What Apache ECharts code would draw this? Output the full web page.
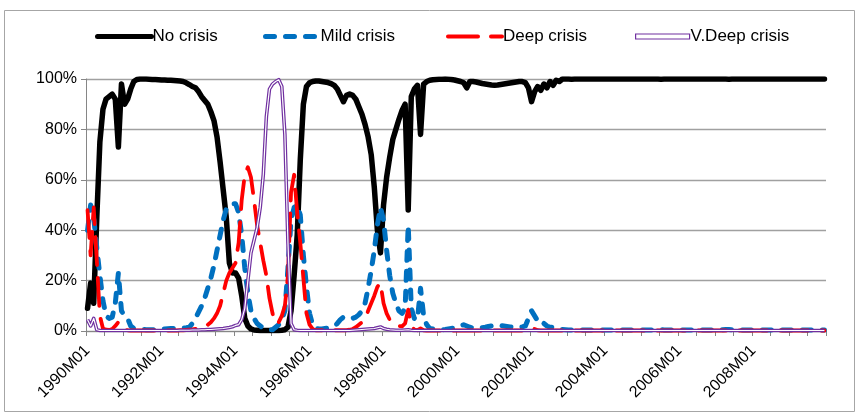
<!DOCTYPE html>
<html>
<head>
<meta charset="utf-8">
<script src="https://cdn.jsdelivr.net/npm/echarts@6/dist/echarts.min.js"></script>
<style>
  html, body { margin: 0; padding: 0; background: #fff; }
  #chart { width: 859px; height: 416px; }
</style>
</head>
<body>
<div id="chart"></div>
<script>
// monthly categories 1990M01 .. 2009M12
const months = [];
for (let y = 1990; y <= 2009; y++) {
  for (let m = 1; m <= 12; m++) months.push(y + 'M' + (m < 10 ? '0' + m : m));
}

const yTicks = [0, 20, 40, 60, 80, 100];

// probabilities in %, one row per year
const noCrisis = [
  9, 19, 11, 45, 75, 88, 92, 93, 94, 92, 73, 98,            // 1990
  90, 92, 96, 99, 99.8, 100, 100, 100, 99.9, 99.8, 99.8, 99.7, // 1991
  99.6, 99.6, 99.5, 99.5, 99.4, 99.3, 99.2, 99, 98.5, 97.8, 97, 96.5, // 1992
  95, 93, 91.5, 90, 87, 83.5, 77, 67, 56, 45, 27, 23,       // 1993
  23, 21, 14, 5, 2, 0.8, 0.4, 0.3, 0.2, 0.2, 0.2, 0.2,      // 1994
  0.2, 0.2, 0.2, 0.3, 0.5, 1.5, 8, 22, 38, 68, 90, 97,      // 1995
  98.5, 99, 99.2, 99.2, 99, 98.8, 98.6, 98.2, 97.5, 96, 93.5, 91, // 1996
  93.5, 94, 93.5, 92, 89, 86, 82, 77, 70, 57, 40, 31,       // 1997
  50, 61, 69, 76, 80, 84, 87.5, 90, 48, 93, 96, 97.5,       // 1998
  78, 98, 99, 99.5, 99.7, 99.8, 99.9, 99.9, 100, 99.9, 99.8, 99.6, // 1999
  99.3, 99, 98.5, 96.5, 99, 99, 98.8, 98.5, 98.2, 98, 97.8, 97.6,  // 2000
  97.5, 97.6, 97.8, 98, 98.2, 98.4, 98.6, 98.8, 99, 99, 98.6, 96.5, // 2001
  91, 95, 97, 95.5, 98, 96.5, 99, 97.5, 99.5, 99, 100, 100, // 2002
  100, 99.9, 100, 100, 100, 100, 100, 100, 100, 100, 100, 100, // 2003
  100, 100, 100, 100, 100, 100, 100, 100, 100, 100, 100, 100, // 2004
  100, 100, 100, 100, 100, 100, 99.9, 100, 100, 100, 100, 100, // 2005
  100, 100, 100, 100, 100, 100, 100, 100, 100, 100, 100, 100, // 2006
  100, 100, 100, 100, 99.9, 100, 100, 100, 100, 100, 100, 100, // 2007
  100, 100, 100, 100, 100, 100, 100, 100, 100, 100, 100, 100, // 2008
  100, 100, 100, 100, 100, 100, 100, 100, 100, 100, 100, 100  // 2009
];

const mildCrisis = [
  40, 50, 45, 33, 22, 12, 6, 5, 5.5, 11, 23, 8,
  6, 5, 2, 1, 0.8, 0.7, 0.6, 0.5, 0.5, 0.5, 0.5, 0.6,
  0.7, 0.8, 0.9, 1, 1, 1, 1.1, 1.2, 1.3, 1.5, 3, 5,
  7.5, 10, 13, 17, 21, 26, 32, 38, 44, 48.5, 50, 50.5,
  50.5, 47, 38, 25, 15, 8, 5, 3, 2, 1.2, 0.8, 0.5,
  0.5, 1.5, 2.5, 4.5, 8, 25, 44, 49, 50, 46, 30, 17.6,
  7, 2.5, 1, 0.8, 0.8, 1, 1.2, 1.5, 2, 3, 4.5, 5.5,
  5.5, 5, 5, 5.5, 6.5, 8, 11, 17, 24, 32, 42, 49,
  44, 32, 22, 15, 11, 8, 7, 9, 42, 9, 5, 4.5,
  17, 6, 2.5, 1, 0.8, 0.6, 0.5, 0.5, 0.6, 0.8, 1, 1.2,
  1.5, 2, 2.5, 2, 1.5, 1.2, 1.2, 1.3, 1.3, 1.5, 1.8, 2,
  2.2, 2.2, 2.2, 2, 1.8, 1.6, 1.5, 1.5, 1.5, 1.6, 2, 5,
  8, 6, 4, 2.5, 3, 2, 1.5, 1.5, 1, 0.8, 0.6, 0.5,
  0.4, 0.4, 0.4, 0.4, 0.4, 0.4, 0.4, 0.4, 0.4, 0.4, 0.4, 0.4,
  0.4, 0.4, 0.4, 0.4, 0.4, 0.4, 0.4, 0.4, 0.4, 0.4, 0.4, 0.4,
  0.4, 0.4, 0.4, 0.4, 0.4, 0.5, 0.5, 0.4, 0.4, 0.4, 0.4, 0.4,
  0.4, 0.4, 0.4, 0.4, 0.4, 0.4, 0.4, 0.4, 0.4, 0.4, 0.4, 0.4,
  0.4, 0.4, 0.5, 0.6, 0.6, 0.5, 0.4, 0.4, 0.4, 0.4, 0.4, 0.4,
  0.4, 0.4, 0.4, 0.4, 0.4, 0.4, 0.4, 0.4, 0.4, 0.4, 0.4, 0.4,
  0.4, 0.4, 0.4, 0.4, 0.4, 0.4, 0.4, 0.4, 0.4, 0.4, 0.4, 0.4
];

const deepCrisis = [
  48, 30, 49, 28, 6, 1, 0.5, 0.4, 0.8, 2, 3.5, 1.5,
  0.5, 0.3, 0.2, 0.2, 0.2, 0.2, 0.2, 0.2, 0.2, 0.2, 0.2, 0.2,
  0.2, 0.2, 0.2, 0.2, 0.2, 0.2, 0.3, 0.3, 0.4, 0.5, 0.6, 0.8,
  1, 1.3, 1.8, 2.5, 3.5, 5, 7, 10, 15, 20, 23, 25,
  27, 35, 52, 62, 65, 61, 52, 42, 35, 28, 22, 13,
  7, 3, 3.5, 6, 10, 22, 55, 62, 47, 35, 21, 7,
  2.5, 0.8, 0.3, 0.3, 0.3, 0.3, 0.3, 0.3, 0.3, 0.3, 0.3, 0.3,
  0.3, 0.5, 0.8, 1.5, 2.5, 3.5, 5, 8, 11, 14, 17.5, 19,
  11, 7, 4.5, 3.2, 2.5, 2, 1.8, 3, 8.5, 2, 0.5, 0.3,
  1, 0.3, 0.2, 0.2, 0.2, 0.2, 0.2, 0.2, 0.2, 0.2, 0.2, 0.2,
  0.2, 0.2, 0.2, 0.2, 0.2, 0.2, 0.2, 0.2, 0.2, 0.2, 0.2, 0.2,
  0.2, 0.2, 0.2, 0.2, 0.2, 0.2, 0.2, 0.2, 0.2, 0.2, 0.3, 0.6,
  1.2, 0.8, 0.3, 0.2, 0.2, 0.2, 0.2, 0.2, 0.2, 0.2, 0.2, 0.2,
  0.2, 0.2, 0.2, 0.2, 0.2, 0.2, 0.2, 0.2, 0.2, 0.2, 0.2, 0.2,
  0.2, 0.2, 0.2, 0.2, 0.2, 0.2, 0.2, 0.2, 0.2, 0.2, 0.2, 0.2,
  0.2, 0.2, 0.2, 0.2, 0.2, 0.2, 0.2, 0.2, 0.2, 0.2, 0.2, 0.2,
  0.2, 0.2, 0.2, 0.2, 0.2, 0.2, 0.2, 0.2, 0.2, 0.2, 0.2, 0.2,
  0.2, 0.2, 0.2, 0.2, 0.2, 0.2, 0.2, 0.2, 0.2, 0.2, 0.2, 0.2,
  0.2, 0.2, 0.2, 0.2, 0.2, 0.2, 0.2, 0.2, 0.2, 0.2, 0.2, 0.2,
  0.2, 0.2, 0.2, 0.2, 0.2, 0.2, 0.2, 0.2, 0.2, 0.2, 0.2, 0.2
];

const vDeepCrisis = [
  4.5, 2, 5, 0.5, 0.2, 0.2, 0.2, 0.2, 0.2, 0.2, 0.2, 0.2,
  0.2, 0.2, 0.2, 0.2, 0.2, 0.2, 0.2, 0.2, 0.2, 0.2, 0.2, 0.2,
  0.2, 0.2, 0.2, 0.2, 0.2, 0.2, 0.3, 0.3, 0.3, 0.3, 0.4, 0.4,
  0.4, 0.5, 0.5, 0.6, 0.6, 0.7, 0.8, 0.9, 1, 1.2, 1.4, 1.7,
  2.2, 2.5, 4.5, 9, 20, 31, 36, 41, 49, 62, 85, 96,
  98, 99, 99.7, 97, 78, 35, 3, 0.5, 0.3, 0.2, 0.2, 0.2,
  0.2, 0.2, 0.2, 0.2, 0.2, 0.2, 0.2, 0.2, 0.2, 0.2, 0.2, 0.2,
  0.2, 0.2, 0.3, 0.4, 0.5, 0.6, 0.7, 0.8, 0.9, 1, 1.3, 1.6,
  1, 0.7, 0.5, 0.4, 0.3, 0.3, 0.3, 0.4, 0.5, 0.3, 0.2, 0.2,
  0.2, 0.2, 0.2, 0.2, 0.2, 0.2, 0.2, 0.2, 0.2, 0.2, 0.2, 0.2,
  0.2, 0.2, 0.2, 0.2, 0.2, 0.2, 0.2, 0.2, 0.2, 0.2, 0.2, 0.2,
  0.2, 0.2, 0.2, 0.2, 0.2, 0.2, 0.2, 0.2, 0.2, 0.2, 0.2, 0.2,
  0.2, 0.2, 0.2, 0.2, 0.2, 0.2, 0.2, 0.2, 0.2, 0.2, 0.2, 0.2,
  0.2, 0.2, 0.2, 0.2, 0.2, 0.2, 0.2, 0.2, 0.2, 0.2, 0.2, 0.2,
  0.2, 0.2, 0.2, 0.2, 0.2, 0.2, 0.2, 0.2, 0.2, 0.2, 0.2, 0.2,
  0.2, 0.2, 0.2, 0.2, 0.2, 0.2, 0.2, 0.2, 0.2, 0.2, 0.2, 0.2,
  0.2, 0.2, 0.2, 0.2, 0.2, 0.2, 0.2, 0.2, 0.2, 0.2, 0.2, 0.2,
  0.2, 0.2, 0.2, 0.2, 0.2, 0.2, 0.2, 0.2, 0.2, 0.2, 0.2, 0.2,
  0.2, 0.2, 0.2, 0.2, 0.2, 0.2, 0.2, 0.2, 0.2, 0.2, 0.2, 0.2,
  0.2, 0.2, 0.2, 0.2, 0.2, 0.2, 0.2, 0.2, 0.2, 0.2, 0.2, 0.2
];

const FONT = 'Liberation Sans';
const chart = echarts.init(document.getElementById('chart'), null, { renderer: 'canvas' });

// one legend per entry so each can sit where the original has it
function legendAt(entry, left, lineStyle) {
  return {
    data: [entry],
    left: left,
    top: 28,
    padding: 0,
    itemWidth: 54,
    itemHeight: 5,
    itemGap: 0,
    itemStyle: { opacity: 0 },  // hide the symbol dot, keep the line
    lineStyle: lineStyle || {},
    textStyle: { fontFamily: FONT, fontSize: 17, color: '#000', padding: [0, 0, 0, -4] }
  };
}

const option = {
  backgroundColor: '#fff',
  animation: false,
  graphic: [{
    type: 'rect',
    shape: { x: 4.5, y: 10.5, width: 850, height: 401 },
    style: { fill: 'none', stroke: '#a6a6a6', lineWidth: 1 },
    silent: true
  }],
  legend: [
    legendAt('No crisis', 95, { width: 5, cap: 'round' }),
    legendAt('Mild crisis', 263, { width: 5, type: [9, 11], cap: 'round' }),
    legendAt('Deep crisis', 446, { width: 4, type: [30, 13], cap: 'round' }),
    legendAt({ name: 'V.Deep crisis', icon: 'rect',
      itemStyle: { color: '#fff', borderColor: '#7030A0', borderWidth: 1.2, opacity: 1 } }, 635)
  ],
  grid: { left: 86, right: 33, top: 79, bottom: 85 },
  xAxis: {
    type: 'category',
    data: months,
    boundaryGap: true,
    axisLine: { lineStyle: { color: '#868686', width: 1 } },
    axisTick: { show: true, interval: 5, length: 5, lineStyle: { color: '#868686' } },
    axisLabel: {
      interval: 23, rotate: 45, margin: 17,
      fontFamily: FONT, fontSize: 16, color: '#000'
    },
    splitLine: { show: false }
  },
  yAxis: {
    type: 'value',
    min: yTicks[0],
    max: yTicks[yTicks.length - 1],
    interval: 20,
    axisLine: { show: true, lineStyle: { color: '#868686', width: 1 } },
    axisTick: { show: true, length: 5, lineStyle: { color: '#868686' } },
    axisLabel: { formatter: '{value}%', fontFamily: FONT, fontSize: 16, color: '#000', margin: 9 },
    splitLine: { lineStyle: { color: '#a0a0a0', width: 1.3 } }
  },
  series: [
    {
      name: 'No crisis', type: 'line', data: noCrisis, symbol: 'none',
      itemStyle: { color: '#000' },
      lineStyle: { color: '#000', width: 5.5, cap: 'round', join: 'round' }
    },
    {
      name: 'Mild crisis', type: 'line', data: mildCrisis, symbol: 'none',
      itemStyle: { color: '#0070C0' },
      lineStyle: { color: '#0070C0', width: 5, type: [9, 11], cap: 'round', join: 'round' }
    },
    {
      name: 'Deep crisis', type: 'line', data: deepCrisis, symbol: 'none',
      itemStyle: { color: '#FF0000' },
      lineStyle: { color: '#FF0000', width: 3.8, type: [28, 13], cap: 'round', join: 'round' }
    },
    {
      name: 'V.Deep crisis', type: 'line', data: vDeepCrisis, symbol: 'none',
      itemStyle: { color: '#7030A0' },
      lineStyle: { color: '#7030A0', width: 3.6, join: 'round' }
    },
    {
      // white core makes the purple line look doubled, as in the original
      name: 'vdeep-core', type: 'line', data: vDeepCrisis, symbol: 'none',
      itemStyle: { color: '#fff' },
      lineStyle: { color: '#fff', width: 1.2, join: 'round' },
      silent: true
    }
  ]
};

chart.setOption(option);
</script>
</body>
</html>
